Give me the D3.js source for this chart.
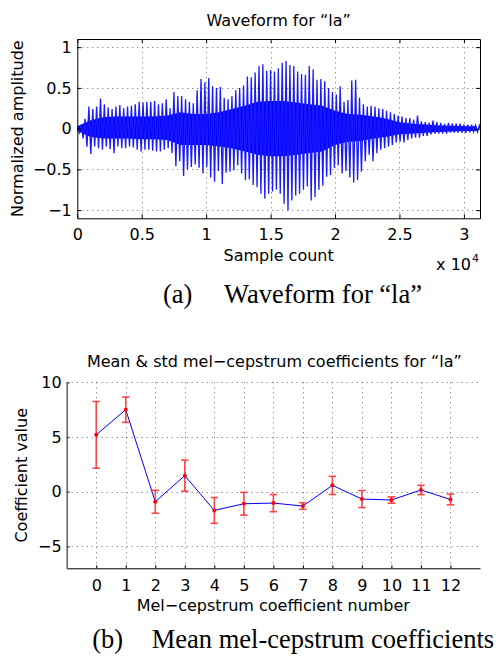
<!DOCTYPE html>
<html>
<head>
<meta charset="utf-8">
<script src="https://cdn.jsdelivr.net/npm/d3@7"></script>
<style>
    body { margin: 0; background: #fff; }
    svg { display: block; }
    text { font-family: 'DejaVu Sans', sans-serif; fill: #000; }
    .caption { font-family: 'Liberation Serif', 'Times New Roman', serif; }
</style>
</head>
<body>
<svg id="chart" width="499" height="656"></svg>
<script>
(function () {
    'use strict';

    // --- waveform (a): sample axis, peaks of each pitch pulse, dense core envelope
    var sampleMax = 31250;
    var sampleTicks = [0, 5000, 10000, 15000, 20000, 25000, 30000];
    var amplitudeTicks = [-1, -0.5, 0, 0.5, 1];
    var peakStep = 300;
    var peakHigh = [0.03, 0.05, 0.12, 0.27, 0.24, 0.27, 0.37, 0.30, 0.26, 0.24,
        0.27, 0.29, 0.25, 0.27, 0.28, 0.30, 0.33, 0.32, 0.33, 0.33,
        0.34, 0.30, 0.31, 0.36, 0.25, 0.45, 0.40, 0.40, 0.36, 0.33,
        0.31, 0.47, 0.61, 0.57, 0.62, 0.52, 0.50, 0.51, 0.38, 0.36,
        0.40, 0.47, 0.50, 0.53, 0.64, 0.63, 0.69, 0.77, 0.79, 0.71,
        0.72, 0.70, 0.74, 0.81, 0.83, 0.78, 0.77, 0.70, 0.67, 0.66,
        0.77, 0.73, 0.60, 0.61, 0.58, 0.50, 0.45, 0.42, 0.52, 0.33,
        0.35, 0.59, 0.60, 0.38, 0.30, 0.27, 0.28, 0.27, 0.25, 0.24,
        0.22, 0.20, 0.18, 0.16, 0.15, 0.13, 0.13, 0.11, 0.16, 0.09,
        0.08, 0.07, 0.10, 0.08, 0.07, 0.06, 0.07, 0.06, 0.06, 0.06,
        0.05, 0.05, 0.05, 0.04, 0.04];
    var peakLow = [-0.05, -0.12, -0.22, -0.31, -0.22, -0.24, -0.26, -0.22, -0.25, -0.30,
        -0.22, -0.24, -0.24, -0.22, -0.23, -0.26, -0.28, -0.26, -0.26, -0.27,
        -0.28, -0.28, -0.26, -0.24, -0.30, -0.46, -0.40, -0.58, -0.50, -0.47,
        -0.44, -0.48, -0.55, -0.47, -0.60, -0.65, -0.52, -0.68, -0.54, -0.53,
        -0.51, -0.45, -0.55, -0.63, -0.62, -0.69, -0.72, -0.80, -0.86, -0.80,
        -0.77, -0.75, -0.80, -0.92, -1.00, -0.88, -0.82, -0.80, -0.75, -0.71,
        -0.88, -0.84, -0.75, -0.70, -0.59, -0.57, -0.48, -0.45, -0.55, -0.52,
        -0.60, -0.66, -0.63, -0.53, -0.40, -0.32, -0.40, -0.30, -0.26, -0.24,
        -0.22, -0.20, -0.17, -0.16, -0.17, -0.14, -0.12, -0.11, -0.11, -0.09,
        -0.09, -0.07, -0.06, -0.06, -0.06, -0.06, -0.05, -0.05, -0.05, -0.05,
        -0.05, -0.045, -0.04, -0.04, -0.035];
    var coreStep = 1000;
    var coreHigh = [0.03, 0.10, 0.14, 0.15, 0.15, 0.15, 0.15, 0.16, 0.20, 0.18, 0.18, 0.20, 0.24, 0.28, 0.33, 0.34,
        0.34, 0.32, 0.30, 0.28, 0.22, 0.18, 0.17, 0.15, 0.12, 0.08, 0.06, 0.05, 0.04, 0.035, 0.03, 0.03];
    var coreLow = [-0.03, -0.10, -0.12, -0.12, -0.12, -0.13, -0.13, -0.14, -0.20, -0.20, -0.20, -0.22, -0.24, -0.28, -0.32, -0.34,
        -0.34, -0.32, -0.30, -0.28, -0.20, -0.16, -0.15, -0.12, -0.10, -0.07, -0.06, -0.05, -0.04, -0.035, -0.03, -0.03];

    // --- mel-cepstrum (b)
    var coeffIndex = [0, 1, 2, 3, 4, 5, 6, 7, 8, 9, 10, 11, 12];
    var coeffMean = [5.2, 7.5, -0.92, 1.47, -1.71, -1.1, -1.04, -1.31, 0.58, -0.67, -0.76, 0.16, -0.71];
    var coeffStd = [3.05, 1.16, 1.05, 1.42, 1.18, 1.04, 0.78, 0.3, 0.83, 0.78, 0.29, 0.43, 0.49];
    var coeffTicks = [-5, 0, 5, 10];

    var minus = function (s) { return String(s).replace('-', '\u2212'); };
    var svg = d3.select('#chart');

    function grid(g, xs, ys, x, y) {
        var gg = g.append('g')
            .attr('stroke', '#666')
            .attr('stroke-width', 1)
            .attr('stroke-dasharray', '1,4');
        gg.selectAll('line.v').data(xs).enter().append('line')
            .attr('x1', function (d) { return Math.round(x(d)) + 0.5; })
            .attr('x2', function (d) { return Math.round(x(d)) + 0.5; })
            .attr('y1', y.range()[0]).attr('y2', y.range()[1]);
        gg.selectAll('line.h').data(ys).enter().append('line')
            .attr('y1', function (d) { return Math.round(y(d)) + 0.5; })
            .attr('y2', function (d) { return Math.round(y(d)) + 0.5; })
            .attr('x1', x.range()[0]).attr('x2', x.range()[1]);
    }

    function styleAxis(g) {
        g.selectAll('text').attr('font-size', 16).attr('font-family', 'DejaVu Sans');
        g.selectAll('path, line').attr('stroke', '#000');
    }

    // ---------------- (a) waveform
    var x1 = d3.scaleLinear().domain([0, sampleMax]).range([77.3, 480]);
    var y1 = d3.scaleLinear().domain([-1.1, 1.1]).range([218.3, 39]);

    var top = svg.append('g');
    grid(top, sampleTicks.slice(1), amplitudeTicks, x1, y1);

    top.append('clipPath').attr('id', 'wave-clip')
        .append('rect')
        .attr('x', x1.range()[0]).attr('y', y1.range()[1])
        .attr('width', x1.range()[1] - x1.range()[0])
        .attr('height', y1.range()[0] - y1.range()[1]);

    var wave = top.append('g').attr('clip-path', 'url(#wave-clip)');

    var core = d3.area()
        .x(function (d, i) { return x1(i * coreStep); })
        .y0(function (d, i) { return y1(coreLow[i]); })
        .y1(function (d) { return y1(d); });
    wave.append('path')
        .datum(coreHigh)
        .attr('d', core)
        .attr('fill', '#0000ff');

    // one pitch pulse = up to its high peak, then down to its low peak
    var pulses = [[0, 0]];
    peakHigh.forEach(function (v, i) {
        pulses.push([i * peakStep, v]);
        pulses.push([i * peakStep + peakStep / 2, peakLow[i]]);
    });
    wave.append('path')
        .datum(pulses)
        .attr('d', d3.line()
            .x(function (d) { return x1(d[0]); })
            .y(function (d) { return y1(d[1]); }))
        .attr('fill', 'none')
        .attr('stroke', '#1a1aff')
        .attr('stroke-width', 1.3)
        .attr('stroke-linejoin', 'miter');

    // box + inward ticks on all four sides
    var fmtK = function (d) { return minus(d / 10000); };
    top.append('g').attr('transform', 'translate(0,' + y1.range()[0] + ')')
        .call(d3.axisBottom(x1).tickValues(sampleTicks).tickFormat(fmtK).tickSize(-4).tickSizeOuter(0).tickPadding(10))
        .call(styleAxis);
    top.append('g').attr('transform', 'translate(0,' + y1.range()[1] + ')')
        .call(d3.axisTop(x1).tickValues(sampleTicks).tickFormat('').tickSize(-4).tickSizeOuter(0))
        .call(styleAxis);
    top.append('g').attr('transform', 'translate(' + x1.range()[0] + ',0)')
        .call(d3.axisLeft(y1).tickValues(amplitudeTicks).tickFormat(minus).tickSize(-4).tickSizeOuter(0).tickPadding(5.5))
        .call(styleAxis);
    top.append('g').attr('transform', 'translate(' + x1.range()[1] + ',0)')
        .call(d3.axisRight(y1).tickValues(amplitudeTicks).tickFormat('').tickSize(-4).tickSizeOuter(0))
        .call(styleAxis);

    var mid1 = (x1.range()[0] + x1.range()[1]) / 2;
    top.append('text').attr('x', mid1).attr('y', 25.7).attr('text-anchor', 'middle')
        .attr('font-size', 16).text('Waveform for \u201cla\u201d');
    top.append('text').attr('x', mid1).attr('y', 260.5).attr('text-anchor', 'middle')
        .attr('font-size', 16).text('Sample count');
    top.append('text').attr('transform', 'translate(23,' + (y1.range()[0] + y1.range()[1]) / 2 + ') rotate(-90)')
        .attr('text-anchor', 'middle').attr('font-size', 16).text('Normalized amplitude');
    top.append('text').attr('x', 471).attr('y', 270).attr('text-anchor', 'end')
        .attr('font-size', 16).text('x 10');
    top.append('text').attr('x', 472).attr('y', 262).attr('font-size', 11).text('4');

    // ---------------- (b) mel-cepstrum coefficients
    var x2 = d3.scaleLinear().domain([-1, 13]).range([66.7, 480]);
    var y2 = d3.scaleLinear().domain([-7, 10]).range([568.3, 382.3]);

    var bot = svg.append('g');
    grid(bot, coeffIndex, coeffTicks, x2, y2);

    bot.append('g').attr('transform', 'translate(0,' + y2.range()[0] + ')')
        .call(d3.axisBottom(x2).tickValues(coeffIndex).tickSize(-3).tickSizeOuter(0).tickPadding(11.3))
        .call(styleAxis);
    bot.append('g').attr('transform', 'translate(' + x2.range()[0] + ',0)')
        .call(d3.axisLeft(y2).tickValues(coeffTicks).tickFormat(minus).tickSize(-3).tickSizeOuter(0).tickPadding(5))
        .call(styleAxis)
        .call(function (g) { g.selectAll('path, line').attr('stroke', '#555').attr('stroke-width', 1.4); });

    bot.append('path')
        .datum(coeffMean)
        .attr('d', d3.line()
            .x(function (d, i) { return x2(coeffIndex[i]); })
            .y(function (d) { return y2(d); }))
        .attr('fill', 'none')
        .attr('stroke', '#0000ff')
        .attr('stroke-width', 1);

    var bars = bot.append('g')
        .attr('stroke', '#ff2a2a')
        .attr('stroke-width', 1.6)
        .attr('stroke-opacity', 0.85);
    coeffMean.forEach(function (m, i) {
        var cx = x2(coeffIndex[i]);
        var hi = y2(m + coeffStd[i]);
        var lo = y2(m - coeffStd[i]);
        bars.append('line').attr('x1', cx).attr('x2', cx).attr('y1', hi).attr('y2', lo);
        bars.append('line').attr('x1', cx - 3.7).attr('x2', cx + 3.7).attr('y1', hi).attr('y2', hi);
        bars.append('line').attr('x1', cx - 3.7).attr('x2', cx + 3.7).attr('y1', lo).attr('y2', lo);
    });
    bot.selectAll('circle.m').data(coeffMean).enter().append('circle')
        .attr('cx', function (d, i) { return x2(coeffIndex[i]); })
        .attr('cy', function (d) { return y2(d); })
        .attr('r', 2)
        .attr('fill', '#ff0000');

    var mid2 = (x2.range()[0] + x2.range()[1]) / 2;
    bot.append('text').attr('x', mid2 + 1).attr('y', 367.3).attr('text-anchor', 'middle')
        .attr('font-size', 16).text('Mean & std mel\u2212cepstrum coefficients for \u201cla\u201d');
    bot.append('text').attr('x', mid2).attr('y', 611).attr('text-anchor', 'middle')
        .attr('font-size', 16).text('Mel\u2212cepstrum coefficient number');
    bot.append('text').attr('transform', 'translate(27,' + (y2.range()[0] + y2.range()[1]) / 2 + ') rotate(-90)')
        .attr('text-anchor', 'middle').attr('font-size', 16).text('Coefficient value');

    // ---------------- captions
    var cap = svg.append('g').attr('class', 'caption');
    cap.append('text').attr('class', 'caption').attr('x', 163).attr('y', 303).attr('font-size', 26.5).text('(a)');
    cap.append('text').attr('class', 'caption').attr('x', 224).attr('y', 303).attr('font-size', 26.5).text('Waveform for \u201cla\u201d');
    cap.append('text').attr('class', 'caption').attr('x', 92.3).attr('y', 648.3).attr('font-size', 26.5).text('(b)');
    cap.append('text').attr('class', 'caption').attr('x', 151.7).attr('y', 648.3).attr('font-size', 26.5).text('Mean mel-cepstrum coefficients');
}());
</script>
</body>
</html>
